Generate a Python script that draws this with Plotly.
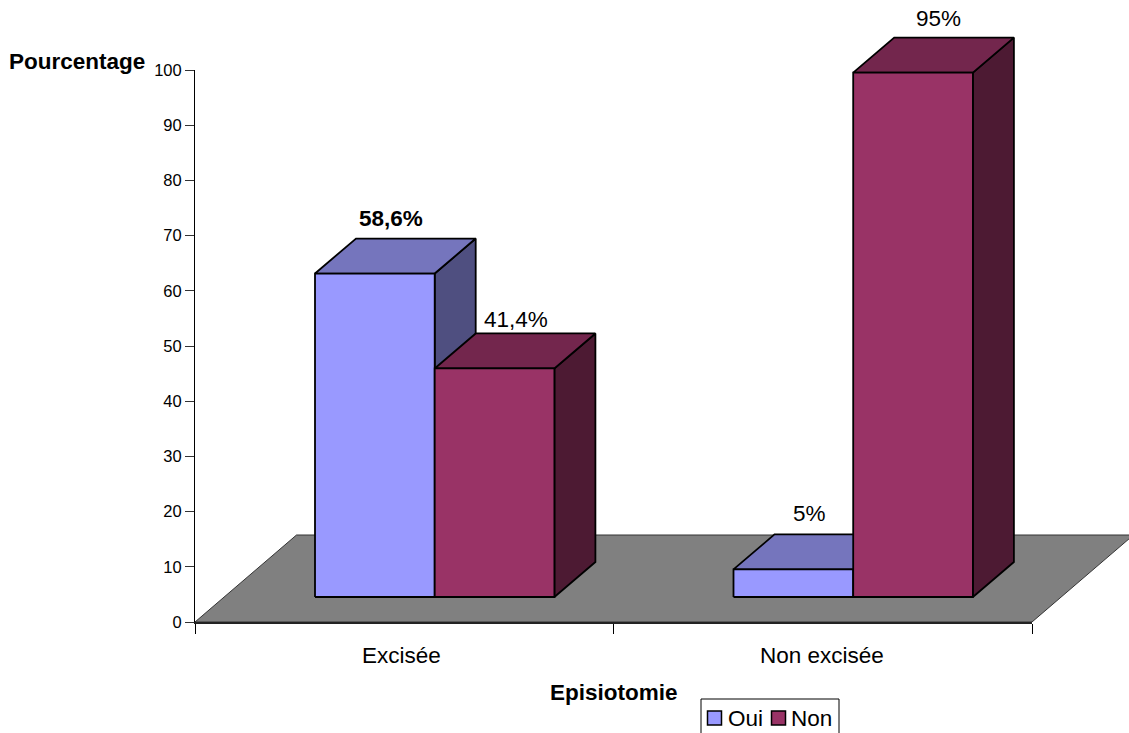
import plotly.graph_objects as go

# Chart data
categories = ["Excisée", "Non excisée"]
series_names = ["Oui", "Non"]
oui_values = [58.6, 5]
non_values = [41.4, 95]
y_ticks = [0, 10, 20, 30, 40, 50, 60, 70, 80, 90, 100]

# Canvas and axis rectangle, in pixels
WIDTH, HEIGHT = 1129, 733
LEFT, RIGHT, TOP, BOTTOM = 195, 1032, 70, 622
PX_X = (RIGHT - LEFT) / 2       # pixels per category
PX_Y = (BOTTOM - TOP) / 100     # pixels per percentage point

# The drawing subplot reaches the page edges so the box can overflow the axes
X_MAX = (WIDTH - LEFT) / PX_X
Y_MAX = BOTTOM / PX_Y

# Oblique projection of the 3D box, in axis units
BAR_W = 119.7 / PX_X
BAR_START = 120 / PX_X
BAR_DX, BAR_DY = 41 / PX_X, 35 / PX_Y
BASE_DY = 25 / PX_Y
FLOOR_DX, FLOOR_DY = 101.5 / PX_X, 87 / PX_Y

FONT = "Liberation Sans"
TEXT_SIZE = 22.5
OUTLINE = "#000000"
PALETTE = {
    "Oui": {"front": "#9999FF", "top": "#7575BD", "side": "#4F4F80"},
    "Non": {"front": "#993366", "top": "#73264D", "side": "#4D1A33"},
}
# Pixel shifts of each value label from the back edge of its bar top
label_shifts = {
    ("Oui", 0): (-4, 20), ("Non", 0): (1, 14),
    ("Oui", 1): (-4, 21), ("Non", 1): (5, 19),
}
bold_labels = {("Oui", 0)}
category_shifts = [-3, -1]

fig = go.Figure()


def polygon(xs, ys, fill, line=OUTLINE, width=1.8):
    fig.add_trace(go.Scatter(
        x=xs + xs[:1], y=ys + ys[:1], mode="lines", fill="toself",
        fillcolor=fill, line=dict(color=line, width=width),
        cliponaxis=False, showlegend=False, hoverinfo="skip",
    ))


def text_font():
    return dict(family=FONT, size=TEXT_SIZE, color="#000000")


# Floor of the 3D scene
polygon([0, 2, 2 + FLOOR_DX, FLOOR_DX], [0, 0, FLOOR_DY, FLOOR_DY],
        "#808080", line="#333333", width=1)

annotations = []
for c, category in enumerate(categories):
    for s, (name, values) in enumerate(zip(series_names, [oui_values, non_values])):
        colors = PALETTE[name]
        x0 = c + BAR_START + s * BAR_W
        x1 = x0 + BAR_W
        y0 = BASE_DY
        y1 = BASE_DY + values[c]
        # Side, top, then front face
        polygon([x1, x1 + BAR_DX, x1 + BAR_DX, x1],
                [y0, y0 + BAR_DY, y1 + BAR_DY, y1], colors["side"])
        polygon([x0, x1, x1 + BAR_DX, x0 + BAR_DX],
                [y1, y1, y1 + BAR_DY, y1 + BAR_DY], colors["top"])
        polygon([x0, x1, x1, x0], [y0, y0, y1, y1], colors["front"])

        text = f"{values[c]:g}".replace(".", ",") + "%"
        sx, sy = label_shifts[(name, c)]
        annotations.append(dict(
            x=(x0 + x1) / 2 + BAR_DX / 2, y=y1 + BAR_DY, xref="x", yref="y",
            text=f"<b>{text}</b>" if (name, c) in bold_labels else text,
            showarrow=False, xshift=sx, yshift=sy, xanchor="center", yanchor="middle",
            font=text_font(),
        ))
    # Category name under the axis
    annotations.append(dict(
        x=c + 0.5, y=0, xref="x", yref="y", text=category, showarrow=False,
        xshift=category_shifts[c], yshift=-33, xanchor="center", yanchor="middle",
        font=text_font(),
    ))

# Carrier that makes the visible axes draw
fig.add_trace(go.Scatter(x=[0, 2], y=[0, 0], xaxis="x2", yaxis="y2", mode="markers",
                         marker=dict(opacity=0), showlegend=False, hoverinfo="skip"))


def paper_x(x):
    return (x - LEFT) / (WIDTH - LEFT)


def paper_y(y):
    return 1 - y / BOTTOM


# Axis headings
annotations.append(dict(
    x=paper_x(77), y=paper_y(61), xref="paper", yref="paper", text="<b>Pourcentage</b>",
    showarrow=False, xanchor="center", yanchor="middle", font=text_font(),
))
annotations.append(dict(
    x=paper_x(614), y=paper_y(692), xref="paper", yref="paper", text="<b>Episiotomie</b>",
    showarrow=False, xanchor="center", yanchor="middle", font=text_font(),
))

# Compact legend box, running off the lower edge of the page
shapes = [dict(type="rect", xref="paper", yref="paper",
               x0=paper_x(701), x1=paper_x(839), y0=paper_y(745), y1=paper_y(699),
               line=dict(color="#000000", width=1), fillcolor="#FFFFFF", layer="above")]
legend_layout = [("Oui", 707.5, 728), ("Non", 771.5, 791)]
for name, swatch_x, text_x in legend_layout:
    shapes.append(dict(type="rect", xref="paper", yref="paper",
                       x0=paper_x(swatch_x), x1=paper_x(swatch_x + 14),
                       y0=paper_y(725), y1=paper_y(711),
                       line=dict(color="#000000", width=1.5),
                       fillcolor=PALETTE[name]["front"], layer="above"))
    annotations.append(dict(
        x=paper_x(text_x), y=paper_y(718), xref="paper", yref="paper", text=name,
        showarrow=False, xanchor="left", yanchor="middle", xshift=-2, font=text_font(),
    ))

hidden_axis = dict(visible=False, showgrid=False, zeroline=False, fixedrange=True)

fig.update_layout(
    width=WIDTH, height=HEIGHT,
    margin=dict(l=LEFT, r=0, t=0, b=HEIGHT - BOTTOM, pad=0, autoexpand=False),
    paper_bgcolor="#FFFFFF", plot_bgcolor="rgba(0,0,0,0)",
    showlegend=False, annotations=annotations, shapes=shapes,
    font=dict(family=FONT, color="#000000"),
    xaxis=dict(range=[0, X_MAX], **hidden_axis),
    yaxis=dict(range=[0, Y_MAX], **hidden_axis),
    xaxis2=dict(
        domain=[0, (RIGHT - LEFT) / (WIDTH - LEFT)], anchor="y2",
        range=[0, 2], tickvals=[0, 1, 2], showticklabels=False, ticks="outside",
        ticklen=10, tickwidth=1, tickcolor="#000000", showgrid=False, zeroline=False,
        showline=True, linecolor="#222222", linewidth=2, fixedrange=True,
    ),
    yaxis2=dict(
        domain=[0, (BOTTOM - TOP) / BOTTOM], anchor="x2",
        range=[0, 100], tickvals=y_ticks, ticks="outside", ticklen=9, tickwidth=1,
        tickcolor="#333333", tickfont=dict(family=FONT, size=16.5, color="#000000"),
        showgrid=False, zeroline=False, showline=True, linecolor="#000000", linewidth=1,
        fixedrange=True,
    ),
)

fig.write_html("out.html", config={"displayModeBar": False})
